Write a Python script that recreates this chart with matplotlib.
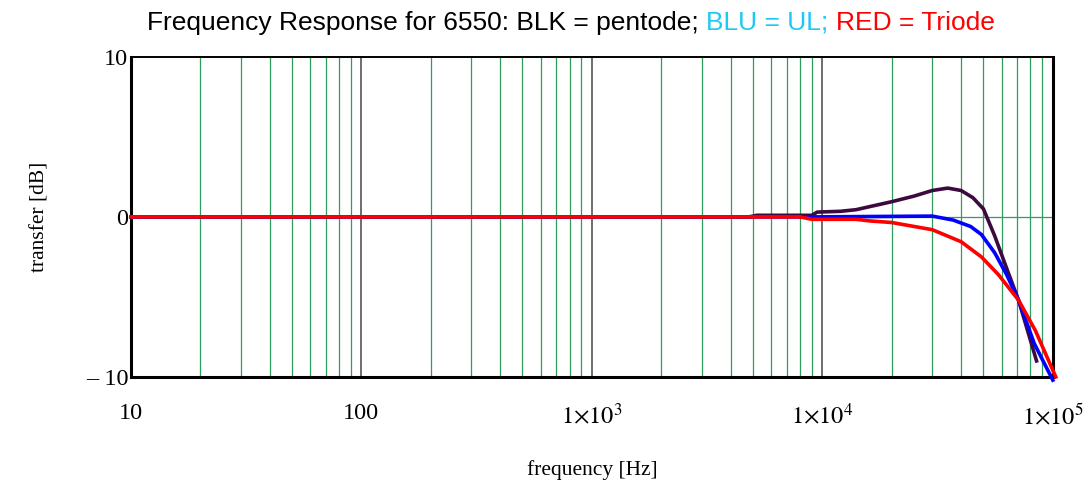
import numpy as np
import matplotlib
matplotlib.use("Agg")
from matplotlib import pyplot as plt

# values (frequency in Hz, transfer in dB)
f_pentode = [10, 4800, 5200, 9000, 9500, 12000, 14000, 20000, 25000, 30000,
             35000, 40000, 45000, 50000, 56000, 63000, 71000, 85000]
db_pentode = [0, 0, 0.1, 0.1, 0.3, 0.35, 0.45, 0.95, 1.3, 1.65,
              1.8, 1.65, 1.2, 0.5, -1.2, -3.2, -5.2, -9.0]

f_ul = [10, 9000, 30000, 37000, 44000, 49000, 56000, 63000, 71000, 83000, 100000]
db_ul = [0, 0, 0.05, -0.2, -0.6, -1.1, -2.25, -3.6, -5.2, -7.9, -10.2]

f_triode = [10, 8000, 9000, 14000, 16000, 20000, 30000, 40000, 49000, 58000,
            71000, 84000, 103000]
db_triode = [0, 0, -0.15, -0.15, -0.25, -0.35, -0.8, -1.55, -2.5, -3.6,
             -5.2, -7.1, -10]

x_ticks = [10, 100, 1e3, 1e4, 1e5]
x_labels = ["10", "100", r"$1{\times}10^{3}$", r"$1{\times}10^{4}$", r"$1{\times}10^{5}$"]
y_ticks = [-10, 0, 10]
y_labels = ["\u2013 10", "0", "10"]

title_parts = [("Frequency Response for 6550: BLK = pentode; ", "black"),
               ("BLU = UL; ", "#1ec8f5"),
               ("RED = Triode", "#ff0000")]

plt.rcParams["mathtext.fontset"] = "stix"
serif = "Liberation Serif"

fig = plt.figure(figsize=(10.91, 4.82), dpi=100)
ax = fig.add_axes([0.120, 0.218, 0.845, 0.664])

# grid: green minor decades, dark decade lines, green zero line
for dec in [10, 100, 1000, 10000]:
    for m in range(2, 10):
        ax.axvline(dec * m, color="#2e9e5e", lw=0.9, zorder=1)
for d in [100, 1000, 10000]:
    ax.axvline(d, color="#555555", lw=1.2, zorder=1)
ax.axhline(0, color="#2e9e5e", lw=0.9, zorder=1)

ax.plot(f_pentode, db_pentode, color="#3d0a40", lw=2.6, zorder=3, clip_on=False)
ax.plot(f_ul, db_ul, color="#0000ff", lw=2.6, zorder=4, clip_on=False)
ax.plot(f_triode, db_triode, color="#ff0000", lw=2.6, zorder=5, clip_on=False)

ax.set_xscale("log")
ax.set_xlim(10, 1e5)
ax.set_ylim(-10, 10)
ax.minorticks_off()
ax.set_xticks(x_ticks)
ax.set_xticklabels(x_labels, fontsize=17.5, family=serif)
ax.set_yticks(y_ticks)
ax.set_yticklabels(y_labels, fontsize=17.5, family=serif)
ax.tick_params(length=0, pad=2)
ax.tick_params(axis="x", pad=19)

for side in ["left", "bottom", "right"]:
    ax.spines[side].set_linewidth(2.2)
ax.spines["top"].set_linewidth(1.4)

ax.set_xlabel("frequency [Hz]", fontsize=15.5, family=serif, labelpad=22)
ax.set_ylabel("transfer [dB]", fontsize=15.5, family=serif, labelpad=26)

# multi-coloured title, pieces laid side by side
fig.canvas.draw()
renderer = fig.canvas.get_renderer()
texts = []
for s, c in title_parts:
    texts.append(fig.text(0, 0.953, s, color=c, fontsize=19,
                          family="Liberation Sans", va="center", ha="left"))
widths = [t.get_window_extent(renderer).width for t in texts]
total = sum(widths)
x0 = (571 - total / 2)
for t, w in zip(texts, widths):
    t.set_x(x0 / fig.bbox.width)
    x0 += w

fig.savefig("out.png", dpi=100)
